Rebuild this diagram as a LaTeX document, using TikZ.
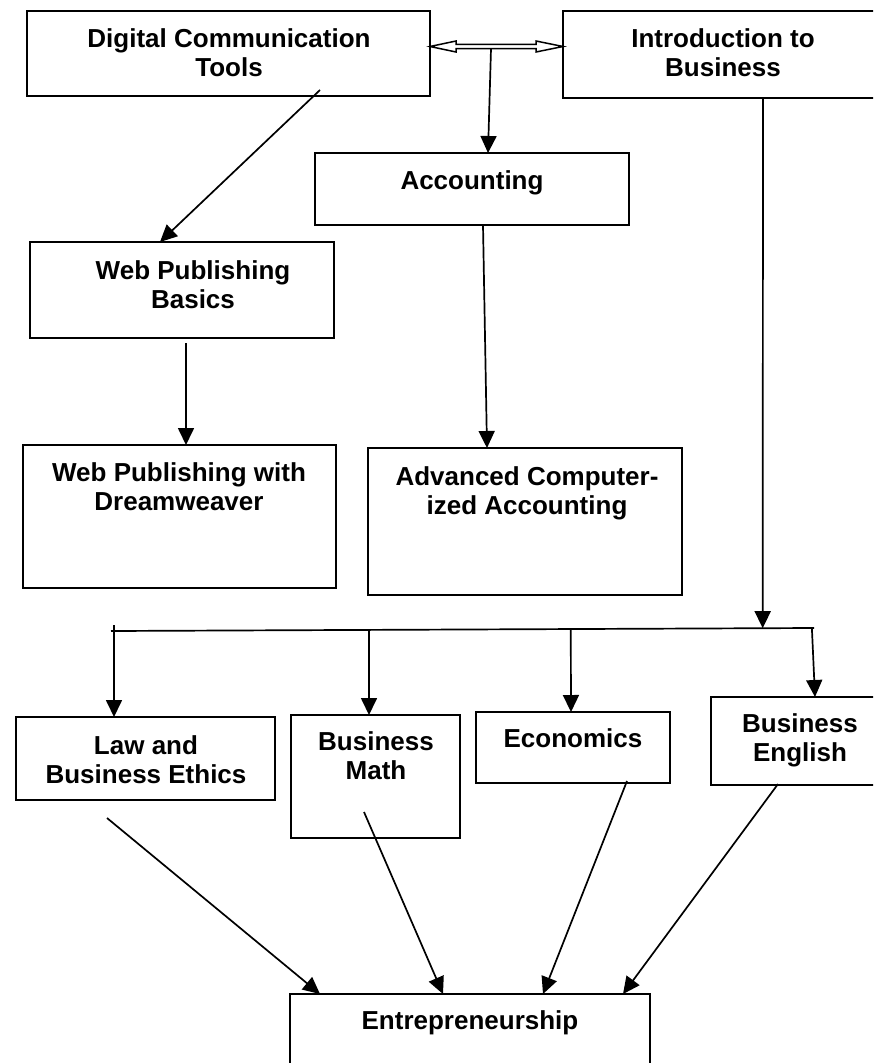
\documentclass[tikz,border=0pt]{standalone}
\usepackage{fontspec}
\setmainfont{Liberation Sans}
\usetikzlibrary{arrows.meta,calc}

\tikzset{
  course/.style={draw, line width=2pt, inner sep=0pt, outer sep=0pt},
  % anchor=base sits on the baseline of the last line
  title/.style={font=\bfseries\fontsize{26}{29}\selectfont, align=center, anchor=base, inner sep=0pt},
  link/.style={line width=1.7pt, -{Triangle[length=17pt,width=16pt]}},
  plain/.style={line width=1.7pt},
  hollow/.style={line width=1.5pt, fill=white, line join=miter}
}

\begin{document}
\begin{tikzpicture}[x=1pt, y=-1pt]
\useasboundingbox (0,0) rectangle (873,1063);
\fill[white] (0,0) rectangle (873,1063);
\clip (0,0) rectangle (873,1063);

% course boxes
\node[course, minimum width=403pt, minimum height=85pt]  (dct) at (228.5,53.5) {};
\node[course, minimum width=321pt, minimum height=87pt]  (itb) at (723.5,54.5) {};
\node[course, minimum width=314pt, minimum height=72pt]  (acc) at (472,189) {};
\node[course, minimum width=304pt, minimum height=96pt]  (wpb) at (182,290) {};
\node[course, minimum width=313pt, minimum height=143pt] (wpd) at (179.5,516.5) {};
\node[course, minimum width=314pt, minimum height=147pt] (aca) at (525,521.5) {};
\node[course, minimum width=259pt, minimum height=83pt]  (law) at (145.5,758.5) {};
\node[course, minimum width=169pt, minimum height=123pt] (bm)  at (375.5,776.5) {};
\node[course, minimum width=194pt, minimum height=71pt]  (eco) at (573,747.5) {};
\node[course, minimum width=178pt, minimum height=88pt]  (be)  at (800,741) {};
\node[course, minimum width=360pt, minimum height=86pt]  (ent) at (470,1037) {};

% course titles
\node[title] (tdct) at (229,76)  {Digital Communication\\Tools};
\node[title] (titb) at (723,76)  {Introduction to\\Business};
\node[title] (tacc) at (472,189) {Accounting};
\node[title] (twpb) at (193,308) {Web Publishing\\Basics};
\node[title] (twpd) at (179,510) {Web Publishing with\\Dreamweaver};
\node[title] (taca) at (527,514) {Advanced Computer-\\ized Accounting};
\node[title] (tlaw) at (146,783) {Law and\\Business Ethics};
\node[title] (tbm)  at (376,779) {Business\\Math};
\node[title] (teco) at (573,747) {Economics};
\node[title] (tbe)  at (800,761) {Business\\English};
\node[title] (tent) at (470,1029) {Entrepreneurship};

% two-way hollow arrow between the two starting courses
\coordinate (ylevel) at (0,46.5);
\coordinate (dl) at (dct.east |- ylevel);
\coordinate (dr) at (itb.west |- ylevel);
\draw[hollow] (dl) -- ($(dl)+(26,-5.5)$) -- ($(dl)+(26,-2.2)$) -- ($(dr)+(-27,-2.2)$)
  -- ($(dr)+(-27,-5.5)$) -- (dr) -- ($(dr)+(-27,5.5)$) -- ($(dr)+(-27,2.2)$)
  -- ($(dl)+(26,2.2)$) -- ($(dl)+(26,5.5)$) -- cycle;
\coordinate (shaft) at ($(dl)+(61,2.2)$);

% top part
\draw[link] (shaft) -- ($(acc.north west)+(173,0)$);
\draw[link] ($(dct.south west)+(293,-6)$) -- ($(wpb.north west)+(130,0)$);
\draw[link] ($(wpb.south west)+(156,5)$) -- ($(wpd.north west)+(163,0)$);
\draw[link] ($(acc.south west)+(168,0)$) -- ($(aca.north west)+(119,0)$);

% distribution bar under Introduction to Business
\coordinate (busL) at (111,631);
\coordinate (busR) at (814,628);
\draw[plain] (busL) -- (busR);
\draw[link] ($(itb.south west)+(200,0)$) -- ($(busL)!0.927!(busR)$);
\draw[link] ($(law.north west)+(98,-92)$) -- ($(law.north west)+(98,0)$);
\draw[link] ($(busL)!0.367!(busR)$) -- ($(bm.north west)+(78,0)$);
\draw[link] ($(busL)!0.654!(busR)$) -- ($(eco.north west)+(95,0)$);
\draw[link] ($(busL)!0.997!(busR)$) -- ($(be.north west)+(104,0)$);

% converging arrows into Entrepreneurship
\draw[link] ($(law.south west)+(91,18)$) -- ($(ent.north west)+(30,0)$);
\draw[link] ($(bm.south west)+(73,-26)$)  -- ($(ent.north west)+(153,0)$);
\draw[link] ($(eco.south west)+(151,-2)$) -- ($(ent.north west)+(253,0)$);
\draw[link] ($(be.south west)+(67,-1)$)   -- ($(ent.north west)+(333,0)$);
\end{tikzpicture}
\end{document}
